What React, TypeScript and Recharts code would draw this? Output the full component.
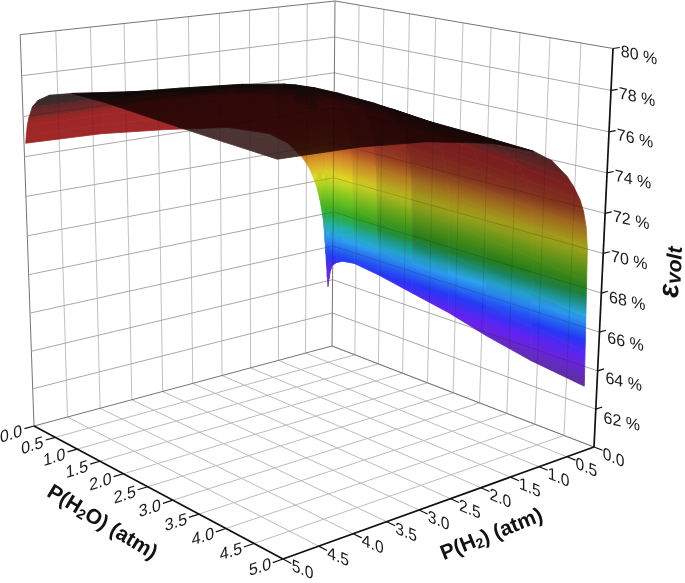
import React from "react";
import { ScatterChart, Scatter, XAxis, YAxis } from "recharts";

const W = 685;
const H = 583;

// pressure axes (atm) and efficiency axis (%)
const pressureTicks = [0, 0.5, 1, 1.5, 2, 2.5, 3, 3.5, 4, 4.5, 5];
const efficiencyTicks = [60, 62, 64, 66, 68, 70, 72, 74, 76, 78, 80];
const pressureLabels = ["0.0", "0.5", "1.0", "1.5", "2.0", "2.5", "3.0", "3.5", "4.0", "4.5", "5.0"];

// surface sample positions
const h2oSamples = [0.04, 0.06, 0.09, 0.13, 0.22, 0.35, 0.6, 1.1, 1.8, 2.5, 3.2, 4, 4.9];
const h2Samples = [0.12, 0.135, 0.15, 0.165, 0.18, 0.22, 0.28, 0.35, 0.47, 0.6, 0.87, 1.2, 1.9, 2.9, 3.9, 5];

// voltage efficiency (%) : one row per H2O sample, one value per H2 sample
const eff004 = [63.7, 64.3, 65, 65.7, 66.4, 67.8, 68.9, 69.8, 70.8, 71.5, 72.5, 73.2, 73.9, 74.3, 74.6, 74.7];
const eff006 = [64.2, 65.2, 66.2, 67.2, 68.2, 69.6, 70.6, 71.2, 71.9, 72.4, 73.2, 73.9, 74.5, 74.9, 75.1, 75.1];
const eff009 = [64.7, 66, 67.4, 68.8, 70.1, 71.3, 72.2, 72.8, 73.4, 73.8, 74.4, 74.9, 75.3, 75.5, 75.6, 75.6];
const eff013 = [65.05, 66.6, 68.1, 69.6, 70.9, 72, 72.8, 73.4, 74, 74.4, 75, 75.4, 75.8, 76, 76, 76];
const eff022 = [65.3, 66.9, 68.5, 70, 71.4, 72.5, 73.3, 73.9, 74.6, 75, 75.5, 75.9, 76.2, 76.4, 76.5, 76.6];
const eff035 = [65.5, 67.1, 68.8, 70.4, 71.7, 72.7, 73.6, 74.2, 74.9, 75.3, 75.8, 76.1, 76.4, 76.65, 76.85, 77];
const eff060 = [65.6, 67.2, 68.8, 70.3, 71.7, 72.7, 73.6, 74.3, 75, 75.4, 75.9, 76.2, 76.4, 76.65, 77, 77.4];
const eff110 = [65.4, 66.9, 68.5, 70.1, 71.5, 72.6, 73.5, 74.2, 74.9, 75.4, 75.9, 76.2, 76.55, 76.95, 77.4, 77.8];
const eff180 = [65, 66.5, 68.1, 69.8, 71.3, 72.3, 73.2, 73.9, 74.6, 75.2, 75.8, 76.2, 76.6, 77.05, 77.4, 77.8];
const eff250 = [64.6, 66.2, 67.8, 69.6, 71.1, 72.1, 73, 73.6, 74.4, 74.9, 75.6, 76.1, 76.65, 77.1, 77.45, 77.7];
const eff320 = [64.05, 65.8, 67.5, 69.3, 70.9, 71.9, 72.8, 73.4, 74.2, 74.7, 75.4, 75.9, 76.6, 77.2, 77.5, 77.6];
const eff400 = [63.55, 65.4, 67.2, 69, 70.6, 71.6, 72.5, 73.1, 73.9, 74.4, 75.2, 75.8, 76.5, 77.1, 77.4, 77.5];
const eff490 = [63.2, 65, 66.8, 68.6, 70.3, 71.4, 72.2, 72.8, 73.5, 74.1, 75, 75.65, 76.4, 77, 77.3, 77.4];
const efficiency = [eff004, eff006, eff009, eff013, eff022, eff035, eff060, eff110, eff180, eff250, eff320, eff400, eff490];

// colour ramp of the surface
const rampLevels = [62.5, 63.5, 64.6, 65.6, 66.8, 67.5, 68.2, 69.2, 70.3, 71.3, 72.3, 73.5, 80];
const rampColors = ["#5a2a80", "#6030a8", "#6a20f0", "#2038f4", "#2ca4ec", "#20b0a0", "#2ea822", "#78c420", "#dcdc24", "#d89428", "#b04428", "#a52a2a", "#8c2020"];

// perspective frame: where the box corners appear in the picture
const corner00 = [332, 346];
const cornerU = [594, 447];
const cornerUV = [283, 559];
const cornerV = [34, 426];
const topBack = [335, 1];
const topRight = [613, 49];

function buildCamera() {
  const [x0, y0] = corner00, [x1, y1] = cornerU, [x2, y2] = cornerUV, [x3, y3] = cornerV;
  const dx1 = x1 - x2, dx2 = x3 - x2, sx = x0 - x1 + x2 - x3;
  const dy1 = y1 - y2, dy2 = y3 - y2, sy = y0 - y1 + y2 - y3;
  const det = dx1 * dy2 - dx2 * dy1;
  const g = (sx * dy2 - dx2 * sy) / det;
  const h = (dx1 * sy - sx * dy1) / det;
  const c1 = [x1 - x0 + g * x1, y1 - y0 + g * y1, g];
  const c2 = [x3 - x0 + h * x3, y3 - y0 + h * y3, h];
  const c4 = [x0, y0, 1];
  const s = (c1[0] - topRight[0] * g) / (topRight[0] - topBack[0]);
  const c3 = [s * topBack[0] - c4[0], s * topBack[1] - c4[1], s - 1];
  return { c1, c2, c3, c4 };
}
const cam = buildCamera();

function project(u: number, v: number, z: number) {
  const a = u / 5, b = v / 5, c = (z - 60) / 20;
  const X = a * cam.c1[0] + b * cam.c2[0] + c * cam.c3[0] + cam.c4[0];
  const Y = a * cam.c1[1] + b * cam.c2[1] + c * cam.c3[1] + cam.c4[1];
  const Q = a * cam.c1[2] + b * cam.c2[2] + c * cam.c3[2] + cam.c4[2];
  return { x: X / Q, y: Y / Q };
}

function hex(c: string) {
  return [parseInt(c.slice(1, 3), 16), parseInt(c.slice(3, 5), 16), parseInt(c.slice(5, 7), 16)];
}
function rampColor(z: number) {
  let k = 0;
  while (k < rampLevels.length - 2 && z > rampLevels[k + 1]) k++;
  const t = Math.max(0, Math.min(1, (z - rampLevels[k]) / (rampLevels[k + 1] - rampLevels[k])));
  const a = hex(rampColors[k]), b = hex(rampColors[k + 1]);
  return [0, 1, 2].map((i) => a[i] + (b[i] - a[i]) * t);
}
function slopeAt(i: number, j: number) {
  const i0 = Math.max(0, i - 1), i1 = Math.min(h2oSamples.length - 1, i + 1);
  const j0 = Math.max(0, j - 1), j1 = Math.min(h2Samples.length - 1, j + 1);
  const du = Math.abs(efficiency[i1][j] - efficiency[i0][j]) / (h2oSamples[i1] - h2oSamples[i0]);
  const dv = Math.abs(efficiency[i][j1] - efficiency[i][j0]) / (h2Samples[j1] - h2Samples[j0]);
  return Math.max(du / 2, dv);
}
function wallColor(z: number, slope: number, u: number) {
  const lit = Math.max(0, Math.min(1, (slope - 1) / 3.5));
  const dimU = u < 0.5 ? 1 : u > 2 ? 0.74 : 1 - ((u - 0.5) / 1.5) * 0.26;
  const warm = Math.max(0, Math.min(1, (z - 66.8) / 1));
  const dim = 1 - (1 - dimU) * warm;
  const base = rampColor(z).map((c) => c * dim);
  const dark = [52, 42, 42];
  const m = dark.map((d, i) => Math.round(d + (base[i] - d) * lit));
  return `rgb(${m[0]},${m[1]},${m[2]})`;
}

type Cell = any;
const allCells: Cell[] = [];
const wallCells: Cell[] = [];
const topCells: Cell[] = [];
{
  for (let i = 0; i < h2oSamples.length - 1; i++) {
    for (let j = 0; j < h2Samples.length - 1; j++) {
      const idx = [[i, j], [i + 1, j], [i + 1, j + 1], [i, j + 1]];
      const pts = idx.map(([a, b]) => project(h2oSamples[a], h2Samples[b], efficiency[a][b]));
      let area = 0;
      pts.forEach((p, k) => {
        const q = pts[(k + 1) % 4];
        area += p.x * q.y - q.x * p.y;
      });
      const cx = pts.reduce((s, p) => s + p.x, 0) / 4;
      const cy = pts.reduce((s, p) => s + p.y, 0) / 4;
      const zs = idx.map(([a, b]) => efficiency[a][b]);
      const slopes = idx.map(([a, b]) => slopeAt(a, b));
      const zc = zs.reduce((s, z) => s + z, 0) / 4;
      // colour runs straight through the cell: plane through its four corners
      let sxx = 0, sxy = 0, syy = 0, sxz = 0, syz = 0;
      pts.forEach((p, k) => {
        const dx = p.x - cx, dy = p.y - cy, dz = zs[k] - zc;
        sxx += dx * dx; sxy += dx * dy; syy += dy * dy; sxz += dx * dz; syz += dy * dz;
      });
      const det = sxx * syy - sxy * sxy;
      let gx = 0, gy = 1e-6;
      if (Math.abs(det) > 1e-3) {
        gx = (sxz * syy - syz * sxy) / det;
        gy = (syz * sxx - sxz * sxy) / det;
      }
      const g2 = gx * gx + gy * gy || 1e-9;
      const hi = zs.indexOf(Math.max(...zs)), lo = zs.indexOf(Math.min(...zs));
      const along = (z: number) => ({ x: cx + (gx / g2) * (z - zc), y: cy + (gy / g2) * (z - zc) });
      allCells.push({
        id: `c${i}_${j}`,
        x: cx,
        y: cy,
        pts,
        start: along(zs[lo]),
        end: along(zs[hi]),
        zLo: zs[lo],
        zHi: zs[hi],
        sLo: slopes[lo],
        sHi: slopes[hi],
        u: (h2oSamples[i] + h2oSamples[i + 1]) / 2,
        order: h2oSamples[i] * 0.8 + h2Samples[j],
        area,
      });
    }
  }
  allCells.sort((a, b) => a.order - b.order);
  allCells.forEach((c) => (c.area > 0 ? topCells : wallCells).push(c));
}

const seg = (a: { x: number; y: number }, b: { x: number; y: number }, stroke: string, w: number) => ({
  x: (a.x + b.x) / 2,
  y: (a.y + b.y) / 2,
  dx: (b.x - a.x) / 2,
  dy: (b.y - a.y) / 2,
  stroke,
  w,
});
const gridLight = "#bcbcbc";
const frame = "#757575";
const gridSegments: any[] = [];
pressureTicks.forEach((t, k) => {
  if (k > 0) {
    gridSegments.push(seg(project(t, 0, 60), project(t, 5, 60), gridLight, 1));
    if (k < 10) gridSegments.push(seg(project(t, 0, 60), project(t, 0, 80), "#c0c0c0", 1));
  }
  if (k < 10) gridSegments.push(seg(project(0, t, 60), project(5, t, 60), gridLight, 1));
  if (k > 0) gridSegments.push(seg(project(0, t, 60), project(0, t, 80), k === 10 ? frame : "#c0c0c0", 1));
});
efficiencyTicks.forEach((z, k) => {
  if (k === 0) return;
  const c = k === efficiencyTicks.length - 1 ? frame : "#a8a8a8";
  gridSegments.push(seg(project(0, 0, z), project(5, 0, z), c, 1));
  gridSegments.push(seg(project(0, 0, z), project(0, 5, z), c, 1));
});
gridSegments.push(seg(project(0, 0, 60), project(0, 0, 80), frame, 1));
gridSegments.push(seg(project(0, 0, 60), project(5, 0, 60), frame, 1));
gridSegments.push(seg(project(0, 0, 60), project(0, 5, 60), frame, 1));

const axisSegments: any[] = [];
axisSegments.push(seg(project(0, 5, 60), project(5, 5, 60), "#111", 1.7));
axisSegments.push(seg(project(5, 5, 60), project(5, 0, 60), "#111", 1.7));
axisSegments.push(seg(project(5, 0, 60), project(5, 0, 80), "#111", 1.7));
pressureTicks.forEach((t) => {
  axisSegments.push(seg(project(t, 5, 60), project(t, 5.14, 60), "#111", 1.2));
  axisSegments.push(seg(project(5, t, 60), project(5.14, t, 60), "#111", 1.2));
});
efficiencyTicks.slice(1).forEach((z) => {
  axisSegments.push(seg(project(5, 0, z), project(5, -0.12, z), "#111", 1.2));
});

const labelData: any[] = [];
pressureTicks.forEach((t, k) => {
  const a = project(t, 5, 60);
  labelData.push({ x: a.x - 23, y: a.y + 8, text: pressureLabels[k], m: [0.94, -0.3, 0.05, 1], size: 17 });
  const b = project(5, t, 60);
  labelData.push({ x: b.x + 19.5, y: b.y + 10.5, text: pressureLabels[k], m: [0.92, 0.38, 0, 1], size: 17 });
});
efficiencyTicks.slice(1).forEach((z) => {
  const p = project(5, 0, z);
  labelData.push({ x: p.x + 26, y: p.y + 6 + Math.max(0, 70 - z) * 0.7, text: `${z} %`, m: [0.97, 0.22, 0, 1], size: 16.5 });
});

const titleData = [
  { x: 103, y: 521, kind: "h2o" },
  { x: 491, y: 533, kind: "h2" },
  { x: 669, y: 272, kind: "eff" },
];

const SegmentShape = (p: any) => {
  const d = p.payload;
  return <line x1={p.cx - d.dx} y1={p.cy - d.dy} x2={p.cx + d.dx} y2={p.cy + d.dy} stroke={d.stroke} strokeWidth={d.w} />;
};

const polygonPoints = (p: any) => {
  const d = p.payload;
  const ox = p.cx - d.x, oy = p.cy - d.y;
  return { ox, oy, points: d.pts.map((q: any) => `${q.x + ox},${q.y + oy}`).join(" ") };
};

const VeilShape = (p: any) => (
  <polygon points={polygonPoints(p).points} fill="#fff" stroke="#fff" strokeWidth={0.8} strokeLinejoin="round" />
);

const CellShape = (p: any) => {
  const d = p.payload;
  const { ox, oy, points } = polygonPoints(p);
  const stops = [0, 0.25, 0.5, 0.75, 1];
  const fill = `url(#${d.id})`;
  return (
    <g>
      <defs>
        <linearGradient id={d.id} gradientUnits="userSpaceOnUse" x1={d.start.x + ox} y1={d.start.y + oy} x2={d.end.x + ox} y2={d.end.y + oy}>
          {stops.map((t) => (
            <stop key={t} offset={t} stopColor={wallColor(d.zLo + (d.zHi - d.zLo) * t, d.sLo + (d.sHi - d.sLo) * t, d.u)} />
          ))}
        </linearGradient>
      </defs>
      <polygon points={points} fill={fill} stroke={fill} strokeWidth={0.8} strokeLinejoin="round" />
    </g>
  );
};

const TopShape = (p: any) => (
  <polygon points={polygonPoints(p).points} fill="#4b3432" stroke="#4b3432" strokeWidth={0.8} strokeLinejoin="round" />
);

const LabelShape = (p: any) => {
  const d = p.payload;
  return (
    <text
      transform={`matrix(${d.m[0]},${d.m[1]},${d.m[2]},${d.m[3]},${p.cx},${p.cy})`}
      textAnchor="middle"
      dominantBaseline="central"
      fontFamily="Liberation Sans, Arial, sans-serif"
      fontSize={d.size}
      fill="#1a1a1a"
    >
      {d.text}
    </text>
  );
};

const TitleShape = (p: any) => {
  const kind = p.payload.kind;
  const common = { textAnchor: "middle" as const, fontFamily: "Liberation Sans, Arial, sans-serif", fontWeight: 700, fill: "#111" };
  if (kind === "h2o")
    return (
      <text transform={`translate(${p.cx},${p.cy}) rotate(31)`} fontSize={21} dominantBaseline="central" {...common}>
        P(H<tspan fontSize={14} dy={5}>2</tspan><tspan dy={-5}>O) (atm)</tspan>
      </text>
    );
  if (kind === "h2")
    return (
      <text transform={`translate(${p.cx},${p.cy}) rotate(-22)`} fontSize={21} dominantBaseline="central" {...common}>
        P(H<tspan fontSize={14} dy={5}>2</tspan><tspan dy={-5}>) (atm)</tspan>
      </text>
    );
  return (
    <text transform={`translate(${p.cx},${p.cy}) rotate(-88)`} fontSize={29} fontStyle="italic" dominantBaseline="central" {...common}>
      ε<tspan fontSize={21} dy={4}>volt</tspan>
    </text>
  );
};

export default function App() {
  return (
    <div style={{ position: "absolute", left: 0, top: 0, width: W, height: H, background: "#fff" }}>
      <style>{`.surface-wall,.surface-top{mix-blend-mode:multiply}.surface-veil{opacity:.55}`}</style>
      <ScatterChart width={W} height={H} margin={{ top: 0, right: 0, bottom: 0, left: 0 }}>
        <XAxis type="number" dataKey="x" domain={[0, W]} hide allowDataOverflow />
        <YAxis type="number" dataKey="y" domain={[0, H]} reversed hide allowDataOverflow />
        <Scatter data={gridSegments} shape={SegmentShape} isAnimationActive={false} />
        <Scatter data={axisSegments} shape={SegmentShape} isAnimationActive={false} />
        <Scatter className="surface-veil" data={allCells} shape={VeilShape} isAnimationActive={false} />
        <Scatter className="surface-wall" data={wallCells} shape={CellShape} isAnimationActive={false} />
        <Scatter className="surface-top" data={topCells} shape={TopShape} isAnimationActive={false} />
        <Scatter data={labelData} shape={LabelShape} isAnimationActive={false} />
        <Scatter data={titleData} shape={TitleShape} isAnimationActive={false} />
      </ScatterChart>
    </div>
  );
}
